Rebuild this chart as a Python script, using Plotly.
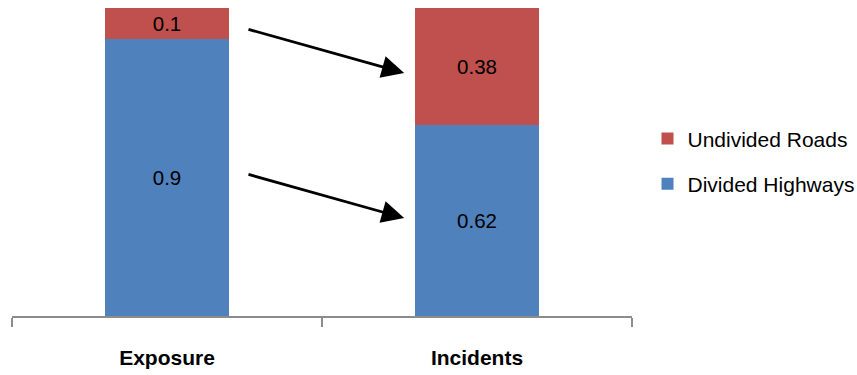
import plotly.graph_objects as go

# Share of exposure vs share of incidents by road type
categories = ["Exposure", "Incidents"]
divided_highways = [0.9, 0.62]
undivided_roads = [0.1, 0.38]

BLUE = "#4F81BD"
RED = "#C0504D"
FONT = "Liberation Sans, Arial, sans-serif"

fig = go.Figure()
fig.add_trace(go.Bar(
    x=categories, y=divided_highways, name="Divided Highways",
    marker=dict(color=BLUE, line=dict(width=0)),
    text=[str(v) for v in divided_highways], textposition="inside",
    insidetextanchor="middle", textangle=0, constraintext="none",
    textfont=dict(color="black", size=20.5, family=FONT),
    legendgroup="b", legendrank=2,
))
fig.add_trace(go.Bar(
    x=categories, y=undivided_roads, name="Undivided Roads",
    marker=dict(color=RED, line=dict(width=0)),
    text=[str(v) for v in undivided_roads], textposition="inside",
    insidetextanchor="middle", textangle=0, constraintext="none",
    textfont=dict(color="black", size=20.5, family=FONT),
    legendgroup="a", legendrank=1,
))

# Arrows pointing from each exposure share to the matching incident share
arrows = [((0.258, 0.932), (0.765, 0.789)), ((0.258, 0.461), (0.765, 0.318))]
for (x0, y0), (x1, y1) in arrows:
    fig.add_annotation(
        x=x1, y=y1, ax=x0, ay=y0, xref="x", yref="y", axref="x", ayref="y",
        text="", showarrow=True, arrowhead=2, arrowsize=1.6, arrowwidth=2.8,
        arrowcolor="black", standoff=0, startstandoff=0,
    )

fig.update_layout(
    width=857, height=375,
    margin=dict(l=12, r=225, t=8, b=59, autoexpand=False),
    barmode="stack", bargap=0.6,
    plot_bgcolor="white", paper_bgcolor="white",
    font=dict(family=FONT, color="black"),
    showlegend=True,
    legend=dict(
        x=1.025, xanchor="left", y=0.502, yanchor="middle",
        traceorder="grouped", tracegroupgap=15,
        font=dict(size=21, color="black"), bgcolor="rgba(0,0,0,0)",
    ),
    xaxis=dict(
        range=[-0.5, 1.5], showgrid=False, zeroline=False,
        showline=True, linecolor="#8c8c8c", linewidth=1.5,
        ticks="outside", tickson="boundaries", ticklen=9, tickcolor="#8c8c8c",
        tickwidth=1.5, ticklabelstandoff=22,
        tickfont=dict(size=21, color="black", family=FONT, weight="bold"),
    ),
    yaxis=dict(range=[0, 1], visible=False, showgrid=False, zeroline=False),
)

fig.write_html("out.html")
